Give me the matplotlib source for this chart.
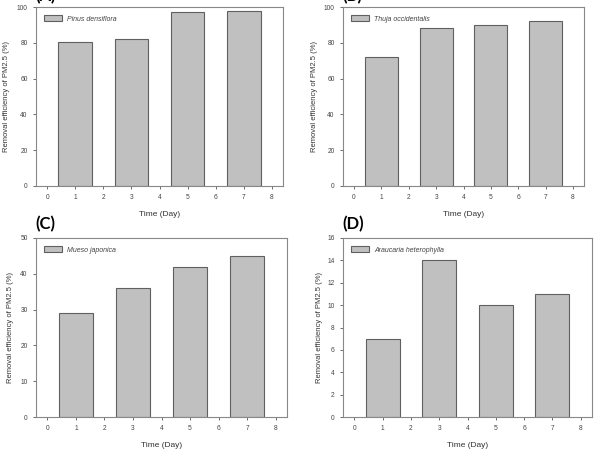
import matplotlib
matplotlib.use('Agg')
import matplotlib.pyplot as plt
import numpy as np

plt.rcParams['font.family'] = ['Liberation Sans', 'DejaVu Sans']

# data
days = [1, 3, 5, 7]
species = ['Pinus densiflora', 'Thuja occidentalis', 'Mueso japonica', 'Araucaria heterophylla']
pinus = [80.5, 82, 97, 98]
thuja = [72, 88.5, 90, 92]
mueso = [29, 36, 42, 45]
araucaria = [7, 14, 10, 11]
panel_labels = ['(A)', '(B)', '(C)', '(D)']
ylims = [100, 100, 50, 16]
ysteps = [20, 20, 10, 2]

W, H = 600, 453
fig = plt.figure(figsize=(6, 4.53), dpi=100)

# axes boxes in pixels: left, top, right, bottom
boxes = [(36, 7, 283, 186), (343, 7, 584, 186),
         (36, 238, 287, 417), (343, 238, 592, 417)]
label_pos = [(35, 1), (342, 1), (35, 229), (342, 229)]
ylab_x = [10, 318, 14, 323]

series = [pinus, thuja, mueso, araucaria]
spine_col = '#888888'

for i in range(4):
    l, t, r, b = boxes[i]
    ax = fig.add_axes([l / W, 1 - b / H, (r - l) / W, (b - t) / H])
    ax.bar(days, series[i], width=1.2, color='#c0c0c0', edgecolor='#606060',
           linewidth=0.8, label=species[i])
    ax.set_xlim(-0.4, 8.4)
    ax.set_ylim(0, ylims[i])
    ax.set_xticks(range(0, 9))
    ax.set_yticks(np.arange(0, ylims[i] + 0.1, ysteps[i]))
    ax.tick_params(axis='both', labelsize=4.8, length=2, width=0.6,
                   colors='#555555', labelcolor='#444444', pad=4)
    for s in ax.spines.values():
        s.set_color(spine_col)
        s.set_linewidth(0.8)
    ax.set_xlabel('Time (Day)', fontsize=6, color='#333333', labelpad=7)
    ax.set_ylabel('Removal efficiency of PM2.5 (%)', fontsize=5.5, color='#333333')
    ax.yaxis.set_label_coords((ylab_x[i] - l) / (r - l), 0.5)
    leg = ax.legend(loc='upper left', frameon=False,
                    prop={'style': 'italic', 'size': 5}, handlelength=2.5,
                    handleheight=0.9, borderaxespad=0.8)
    for txt in leg.get_texts():
        txt.set_color('#444444')
    fig.text(label_pos[i][0] / W, 1 - label_pos[i][1] / H, panel_labels[i],
             fontsize=12, fontweight='bold', family='Lato', va='baseline')

fig.savefig('out.png', dpi=100)
